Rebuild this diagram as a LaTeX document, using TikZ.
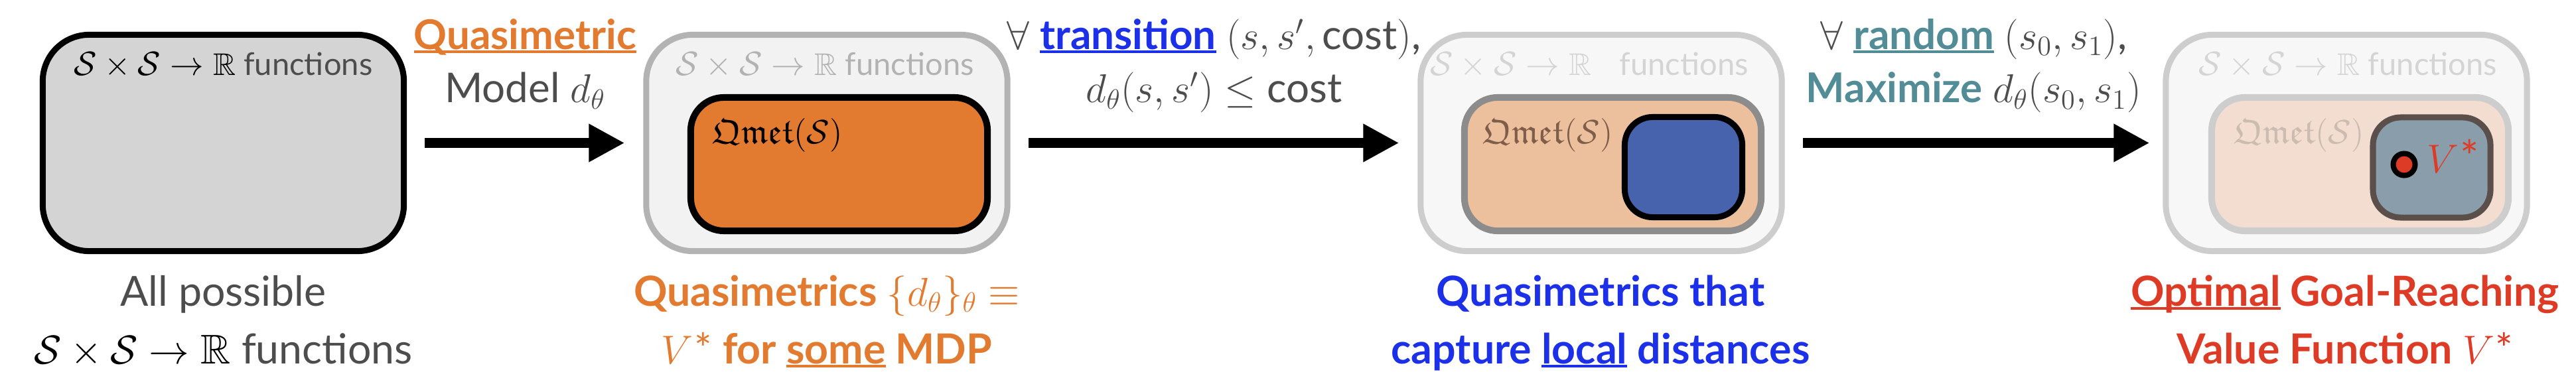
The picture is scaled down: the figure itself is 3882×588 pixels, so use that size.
\documentclass[tikz,border=0pt]{standalone}
\usepackage{amsmath,amssymb}
\usepackage{fontspec}
\setmainfont{Lato}
\usetikzlibrary{arrows.meta,positioning,calc}
\definecolor{textgray}{HTML}{4D4D4D}
\definecolor{fullgray}{HTML}{D4D4D4}
\definecolor{qorange}{HTML}{E27A30}
\definecolor{qblue}{HTML}{1B30E8}
\definecolor{qteal}{HTML}{518C97}
\definecolor{vred}{HTML}{DE3B27}
\definecolor{rimtwo}{HTML}{B3B3B3}
\definecolor{paletwo}{HTML}{F2F2F2}
\definecolor{rimthree}{HTML}{CDCDCD}
\definecolor{palethree}{HTML}{F7F7F7}
\definecolor{peach}{HTML}{EDC09D}
\definecolor{peachrim}{HTML}{8C8C8C}
\definecolor{palepeach}{HTML}{F2DDD0}
\definecolor{localblue}{HTML}{4863AE}
\definecolor{slate}{HTML}{8A9DAB}
\definecolor{slaterim}{HTML}{5A4F4A}
\definecolor{qmetbrown}{HTML}{7E5E4A}
\definecolor{qmetfaded}{HTML}{CBBBB0}
\newcommand{\ssr}{\mathcal{S}\times\mathcal{S}\to\mathbb{R}}
\newcommand{\vstar}{{\mdseries$V$\kern0.5pt*}}
\newsavebox{\ulbox}
\newcommand{\ulword}[1]{\sbox{\ulbox}{#1}\rlap{\rule[-0.1em]{\wd\ulbox}{0.065em}}\usebox{\ulbox}}
\tikzset{
  setbox/.style={line width=0.09cm,rounded corners=0.7cm,minimum width=5.44cm,
    minimum height=3.26cm,inner sep=0pt},
  qmetbox/.style={line width=0.1cm,rounded corners=0.5cm,minimum width=4.47cm,
    minimum height=2.01cm,inner sep=0pt},
  localbox/.style={line width=0.09cm,rounded corners=0.42cm,minimum width=1.77cm,
    minimum height=1.51cm,inner sep=0pt},
  bigarrow/.style={-{Triangle[length=0.54cm,width=0.54cm]},line width=0.14cm,
    shorten <=0.27cm,shorten >=0.28cm},
  settitle/.style={anchor=base,inner sep=0pt,font=\fontsize{13.4}{16}\selectfont},
  qmettitle/.style={anchor=base west,inner sep=0pt,font=\fontsize{15}{18}\selectfont},
  steplabel/.style={anchor=base,align=center,inner sep=0pt,yshift=0.605cm,
    text=textgray,font=\fontsize{17.6}{23}\selectfont},
  caption/.style={anchor=base,align=center,inner sep=0pt,
    font=\fontsize{17.8}{24.7}\selectfont}
}
\begin{document}
\begin{tikzpicture}[x=0.01cm,y=-0.01cm]
\path[use as bounding box] (0,0) rectangle (3882,588);
% outer sets of functions
\node[setbox,draw=black,fill=fullgray] (fullset) at (336.5,215.5) {};
\node[setbox,draw=rimtwo,fill=paletwo] (qmetset) at (1246,215.5) {};
\node[setbox,draw=rimthree,fill=palethree] (localset) at (2413,215.5) {};
\node[setbox,draw=rimthree,fill=palethree] (optset) at (3536,215.5) {};
% quasimetric sets
\node[qmetbox,draw=black,fill=qorange] (qmetA) at (1264.5,247.5) {};
\node[qmetbox,draw=peachrim,fill=peach] (qmetB) at (2430.5,247.5) {};
\node[qmetbox,draw=rimthree,fill=palepeach] (qmetC) at (3556.5,247.5) {};
\node[localbox,draw=black,fill=localblue] (localB) at (2537,252) {};
\node[localbox,draw=slaterim,fill=slate] (localC) at (3664.5,252.5) {};
\node[circle,draw=black,fill=vred,line width=0.08cm,minimum size=0.33cm,
  inner sep=0pt] (vdot) at (3623,248) {};
\node[anchor=base west,inner sep=0pt,text=vred,font=\fontsize{19}{22}\selectfont]
  (vlabel) at (3657,261) {\vstar};
% titles
\node[settitle] (fulltitle) at (336.5,114) {$\ssr$ \textcolor{textgray}{functions}};
\node[settitle,text=black!30] (qmettitle) at (1243,114) {$\ssr$ functions};
\node[settitle,text=black!17] (localtitle) at (2395,114) {$\ssr$\hspace{0.3cm} functions};
\node[settitle,text=black!17] (opttitle) at (3538,114) {$\ssr$ functions};
\node[qmettitle] (qmetlabelA) at (1073,216) {$\mathfrak{Qmet}(\mathcal{S})$};
\node[qmettitle,text=qmetbrown] (qmetlabelB) at (2234,216) {$\mathfrak{Qmet}(\mathcal{S})$};
\node[qmettitle,text=qmetfaded] (qmetlabelC) at (3366,216) {$\mathfrak{Qmet}(\mathcal{S})$};
% steps
\draw[bigarrow] (fullset) -- node[steplabel] (modellabel)
  {\textcolor{qorange}{\bfseries\ulword{Quasimetric}}\\Model $d_\theta$} (qmetset);
\draw[bigarrow] (qmetset) -- node[steplabel] (translabel)
  {$\forall$ \textcolor{qblue}{\bfseries\ulword{transition}} $(s,s',\text{cost})$,\\
   $d_\theta(s,s')\leq{}$cost} (localset);
\draw[bigarrow,shorten >=0.2cm] (localset) -- node[steplabel] (randlabel)
  {$\forall$ \textcolor{qteal}{\bfseries\ulword{random}} $(s_0,s_1)$,\\
   \textcolor{qteal}{\bfseries Maximize} $d_\theta(s_0,s_1)$} (optset);
% captions
\node[caption,text=textgray] (fullcap) at (336.5,548)
  {All possible\\\textcolor{black}{$\ssr$} functions};
\node[caption,text=qorange] (qmetcap) at (1246,548)
  {\bfseries Quasimetrics $\{d_\theta\}_\theta\equiv$\\\vstar\ \bfseries for \ulword{some} MDP};
\node[caption,text=qblue] (localcap) at (2412,548)
  {\bfseries Quasimetrics that\\\bfseries capture \ulword{local} distances};
\node[caption,text=vred] (optcap) at (3534,548)
  {\bfseries\ulword{Optimal} Goal-Reaching\\\bfseries Value Function \vstar};
\end{tikzpicture}
\end{document}
